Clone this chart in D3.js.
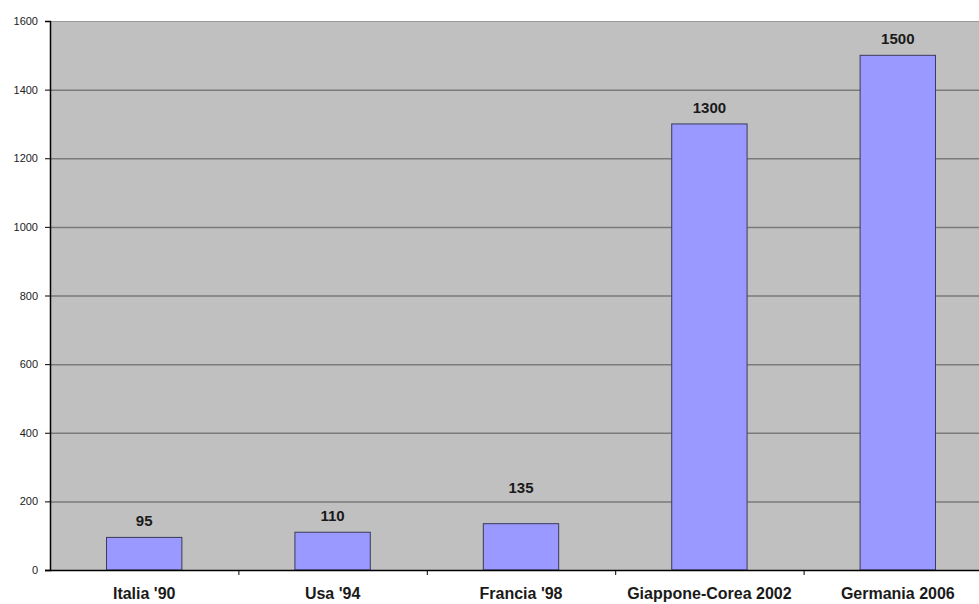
<!DOCTYPE html>
<html>
<head>
<meta charset="utf-8">
<script src="https://cdn.jsdelivr.net/npm/d3@7"></script>
<style>
  html, body { margin: 0; padding: 0; background: #fff; overflow: hidden; }
  svg { display: block; }
</style>
</head>
<body>
<div id="chart"></div>
<script>
const categories = ["Italia '90", "Usa '94", "Francia '98", "Giappone-Corea 2002", "Germania 2006"];
const values = [95, 110, 135, 1300, 1500];
const yTicks = [0, 200, 400, 600, 800, 1000, 1200, 1400, 1600];

const width = 979, height = 604;
const margin = { top: 21, left: 50, bottom: 34 };
const plotRight = 992; // plot runs off the right edge in the reference
// the reference lifts the Francia label higher than the others
const labelNudge = { "Francia '98": 20 };

const svg = d3.select("#chart")
  .append("svg")
  .attr("width", width)
  .attr("height", height);

const x = d3.scaleBand()
  .domain(categories)
  .range([margin.left, plotRight])
  .padding(0);

const y = d3.scaleLinear()
  .domain([0, 1600])
  .range([height - margin.bottom, margin.top]);

// plot background
svg.append("rect")
  .attr("x", margin.left)
  .attr("y", y(1600))
  .attr("width", plotRight - margin.left)
  .attr("height", y(0) - y(1600))
  .attr("fill", "#c0c0c0");

// gridlines
svg.append("g")
  .selectAll("line")
  .data(yTicks.filter(d => d > 0))
  .enter()
  .append("line")
  .attr("x1", margin.left)
  .attr("x2", plotRight)
  .attr("y1", d => y(d) + 0.5)
  .attr("y2", d => y(d) + 0.5)
  .attr("stroke", d => d === 1600 ? "#9a9a9a" : "#7a7a7a")
  .attr("stroke-width", d => d === 1600 ? 1 : 1.5);

// bars
const barW = x.bandwidth() * 0.4;
svg.append("g")
  .selectAll("rect")
  .data(values)
  .enter()
  .append("rect")
  .attr("x", (d, i) => x(categories[i]) + (x.bandwidth() - barW) / 2)
  .attr("y", d => y(d))
  .attr("width", barW)
  .attr("height", d => y(0) - y(d))
  .attr("fill", "#9999ff")
  .attr("stroke", "#3a3a5a")
  .attr("stroke-width", 1);

// value labels
svg.append("g")
  .selectAll("text")
  .data(values)
  .enter()
  .append("text")
  .attr("x", (d, i) => x(categories[i]) + x.bandwidth() / 2)
  .attr("y", (d, i) => y(d) - 11 - (labelNudge[categories[i]] || 0))
  .attr("text-anchor", "middle")
  .style("font-family", "'Liberation Sans', Arial, sans-serif")
  .style("font-size", "15px")
  .style("font-weight", "bold")
  .attr("fill", "#1a1a1a")
  .text(d => d);

// y axis
const yAxis = d3.axisLeft(y)
  .tickValues(yTicks)
  .tickSize(5)
  .tickPadding(7)
  .tickFormat(d3.format("d"));

const gy = svg.append("g")
  .attr("transform", `translate(${margin.left},0)`)
  .call(yAxis);
gy.select(".domain").attr("stroke", "#000").attr("stroke-width", 1.5);
gy.selectAll(".tick line").attr("stroke", "#000");
gy.selectAll(".tick text")
  .style("font-family", "'Liberation Sans', Arial, sans-serif")
  .style("font-size", "11px")
  .attr("fill", "#222");

// x axis
const xAxis = d3.axisBottom(x)
  .tickSize(0)
  .tickPadding(0);

const gx = svg.append("g")
  .attr("transform", `translate(0,${y(0)})`)
  .call(xAxis);
gx.select(".domain").remove();
gx.append("line")
  .attr("x1", margin.left - 5)
  .attr("x2", plotRight)
  .attr("y1", 0.5)
  .attr("y2", 0.5)
  .attr("stroke", "#000")
  .attr("stroke-width", 1.5);
gx.selectAll(".tick text")
  .attr("y", 29)
  .attr("dy", 0)
  .style("font-family", "'Liberation Sans', Arial, sans-serif")
  .style("font-size", "16px")
  .style("font-weight", "bold")
  .attr("fill", "#1a1a1a");

// small ticks between categories
gx.append("g")
  .selectAll("line")
  .data(categories.slice(1))
  .enter()
  .append("line")
  .attr("x1", d => x(d) + 0.5)
  .attr("x2", d => x(d) + 0.5)
  .attr("y1", 0)
  .attr("y2", 5)
  .attr("stroke", "#000");
</script>
</body>
</html>
